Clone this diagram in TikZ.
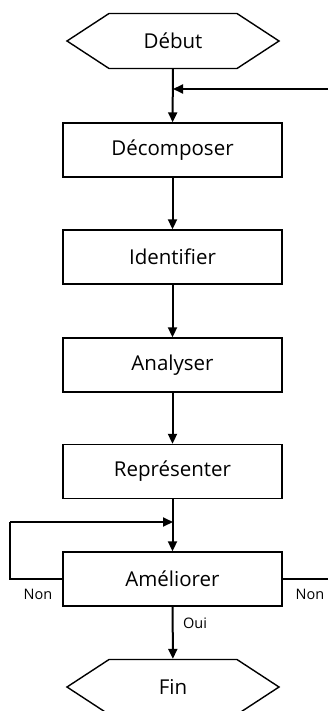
\documentclass[tikz,border=0pt]{standalone}
\usepackage{fontspec}
\setmainfont{Open Sans}
\usetikzlibrary{arrows.meta,shapes.symbols}
\begin{document}
\begin{tikzpicture}[x=1pt,y=-1pt,
  stepbox/.style={draw,line width=1.4pt,rectangle,minimum width=219pt,minimum height=54pt,inner sep=0pt,font=\fontsize{20.5}{24}\selectfont},
  term/.style={draw,line width=1.4pt,signal,signal to=east and west,signal pointer angle=66.4,minimum width=212pt,minimum height=55pt,inner sep=0pt,font=\fontsize{20.5}{24}\selectfont},
  conn/.style={line width=2pt,-{Triangle[width=9pt,length=10pt]}},
  line/.style={line width=2pt},
  lbl/.style={font=\fontsize{14.5}{17}\selectfont,inner sep=0pt}]
\useasboundingbox (0,0) rectangle (328,711);
\node[term] (debut) at (173,41) {Début};
\node[stepbox] (decomp) at (172.5,150) {Décomposer};
\node[stepbox] (ident) at (172.5,257) {Identifier};
\node[stepbox] (analy) at (172.5,365) {Analyser};
\node[stepbox] (repr) at (172.5,471.5) {Représenter};
\node[stepbox] (amel) at (172.5,579) {Améliorer};
\node[term] (fin) at (173,687) {Fin};
\coordinate (injR) at (328,89);
\coordinate (merge1) at (173,89);
\coordinate (merge2) at (173,522);
\coordinate (loopL) at (10,579);
\coordinate (loopLt) at (10,522);
\coordinate (outR) at (328,579);
\draw[conn] (debut) -- (decomp);
\draw[conn] (injR) -- (merge1);
\draw[conn] (decomp) -- (ident);
\draw[conn] (ident) -- (analy);
\draw[conn] (analy) -- (repr);
\draw[conn] (repr) -- (amel);
\draw[line] (amel.west) -- (loopL) -- (loopLt);
\draw[conn] (loopLt) -- (merge2);
\draw[line] (amel.east) -- (outR);
\draw[conn] (amel) -- (fin);
\node[lbl] (non1) at (38,594) {Non};
\node[lbl] (non2) at (310,594) {Non};
\node[lbl] (oui) at (195,623) {Oui};
\end{tikzpicture}
\end{document}
